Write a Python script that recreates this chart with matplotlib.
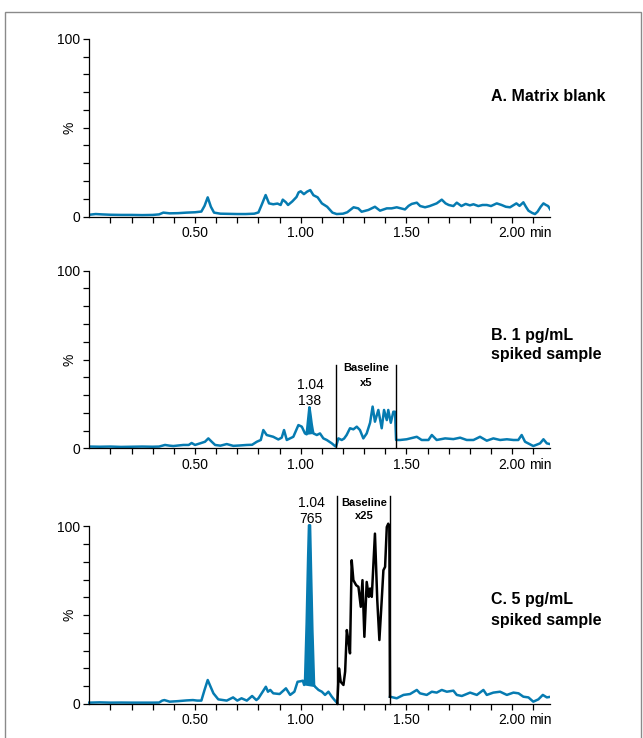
import numpy as np
import matplotlib.pyplot as plt
from matplotlib.patches import Rectangle

plt.rcParams["font.family"] = ["Liberation Sans", "DejaVu Sans"]

BLUE = "#067bb1"

# A. Matrix blank: retention time (min) / response (%)
time_a = [0.00, 0.03, 0.06, 0.10, 0.15, 0.20, 0.25, 0.30, 0.33, 0.35, 0.38, 0.42,
          0.46, 0.50, 0.53, 0.545, 0.56, 0.575, 0.59, 0.62, 0.66, 0.70, 0.74, 0.78,
          0.80, 0.815, 0.834, 0.85, 0.87, 0.89, 0.905, 0.915, 0.93, 0.94, 0.96, 0.98,
          0.99, 1.00, 1.015, 1.03, 1.045, 1.06, 1.08, 1.10, 1.125, 1.15, 1.17, 1.20,
          1.22, 1.25, 1.272, 1.288, 1.32, 1.351, 1.375, 1.407, 1.43, 1.454, 1.493,
          1.51, 1.525, 1.549, 1.565, 1.588, 1.61, 1.643, 1.667, 1.685, 1.70, 1.722,
          1.738, 1.76, 1.78, 1.80, 1.817, 1.84, 1.86, 1.88, 1.90, 1.927, 1.95, 1.97,
          1.99, 2.02, 2.035, 2.053, 2.065, 2.077, 2.095, 2.108, 2.12, 2.135, 2.148,
          2.16, 2.17, 2.18]
resp_a = [1.0, 1.4, 1.2, 1.0, 0.9, 0.9, 0.8, 0.9, 1.2, 2.2, 1.8, 1.9,
          2.2, 2.4, 2.8, 6.0, 10.8, 5.5, 2.2, 1.6, 1.5, 1.4, 1.4, 1.6,
          2.3, 6.5, 12.1, 7.4, 6.9, 7.3, 6.5, 9.5, 8.0, 6.5, 8.5, 11.0,
          13.6, 14.2, 12.6, 14.0, 14.9, 12.0, 10.8, 7.4, 5.5, 2.2, 1.4, 1.6,
          2.4, 5.2, 4.6, 2.7, 3.7, 5.5, 3.3, 4.6, 4.6, 5.2, 4.0,
          6.0, 7.1, 7.8, 5.9, 5.2, 5.9, 7.4, 9.5, 7.4, 6.5, 5.9,
          7.8, 5.9, 7.1, 6.3, 6.9, 5.9, 6.5, 6.5, 5.9, 7.4, 6.5, 5.5,
          5.2, 7.4, 6.0, 8.0, 5.5, 3.3, 2.0, 1.4, 2.7, 5.5, 7.4,
          6.5, 5.9, 4.0]

# B. 1 pg/mL spiked sample (section 1.17-1.45 shown at x5)
time_b = [0.00, 0.05, 0.10, 0.15, 0.20, 0.25, 0.30, 0.33, 0.358, 0.38, 0.397, 0.445,
          0.47, 0.484, 0.50, 0.524, 0.547, 0.563, 0.579, 0.595, 0.62, 0.65, 0.681,
          0.71, 0.745, 0.77, 0.792, 0.811, 0.823, 0.839, 0.87, 0.894, 0.91, 0.921,
          0.934, 0.965, 0.989, 1.005, 1.02, 1.028, 1.034, 1.041, 1.046, 1.052, 1.057,
          1.06, 1.076, 1.091, 1.107, 1.123, 1.147, 1.162, 1.167, 1.178, 1.194, 1.205,
          1.217, 1.233, 1.249, 1.265, 1.28, 1.296, 1.312, 1.328, 1.34, 1.351, 1.367,
          1.383, 1.394, 1.407, 1.414, 1.426, 1.438, 1.446, 1.451, 1.47, 1.501, 1.549,
          1.572, 1.604, 1.62, 1.643, 1.683, 1.722, 1.754, 1.785, 1.817, 1.848, 1.88,
          1.911, 1.943, 1.975, 2.006, 2.029, 2.045, 2.061, 2.10, 2.132, 2.148, 2.164,
          2.179]
resp_b = [1.0, 0.9, 1.0, 0.8, 0.9, 1.0, 0.9, 1.0, 1.9, 1.5, 1.3, 1.9,
          1.9, 3.0, 1.9, 2.8, 3.7, 5.6, 3.7, 1.9, 1.5, 2.4, 1.4,
          1.6, 1.9, 2.0, 3.7, 4.7, 10.3, 7.5, 6.5, 5.0, 6.0, 10.3,
          4.7, 6.5, 13.1, 12.2, 8.4, 7.9, 15.0, 23.1, 19.0, 13.5, 10.0,
          8.4, 7.5, 8.4, 5.6, 4.7, 2.8, 1.3, 1.0, 5.6, 4.7, 5.5,
          7.5, 11.3, 10.7, 12.2, 10.3, 5.6, 8.4, 14.4, 23.5, 15.0, 21.6,
          11.3, 21.6, 15.9, 21.6, 14.4, 20.6, 20.6, 4.7, 4.7, 5.1, 6.5,
          4.7, 4.7, 7.5, 4.7, 5.6, 5.2, 6.0, 4.7, 4.7, 6.5, 4.3,
          5.6, 4.7, 5.1, 4.7, 4.7, 7.5, 3.7, 1.3, 2.8, 5.1, 2.8,
          2.4]

# C. 5 pg/mL spiked sample, blue trace
time_c = [0.00, 0.05, 0.10, 0.15, 0.20, 0.25, 0.30, 0.33, 0.345, 0.355, 0.38, 0.42,
          0.46, 0.49, 0.51, 0.53, 0.545, 0.56, 0.57, 0.587, 0.61, 0.65, 0.68, 0.70,
          0.72, 0.745, 0.77, 0.79, 0.80, 0.82, 0.835, 0.845, 0.856, 0.87, 0.90, 0.93,
          0.95, 0.97, 0.985, 1.00, 1.01, 1.016, 1.020, 1.028, 1.035, 1.039, 1.044,
          1.049, 1.055, 1.063, 1.068, 1.084, 1.10, 1.115, 1.131, 1.147, 1.16, 1.173]
resp_c = [0.75, 0.9, 0.75, 0.8, 0.75, 0.75, 0.75, 0.8, 1.9, 2.2, 1.3, 1.6,
          2.0, 2.2, 1.9, 1.9, 7.9, 13.5, 10.7, 6.0, 2.6, 1.9, 3.7, 1.9,
          3.2, 1.9, 4.5, 2.2, 3.2, 6.9, 9.7, 6.9, 7.9, 6.0, 5.6, 8.8,
          5.1, 6.9, 12.5, 12.8, 13.1, 10.7, 11.6, 45.3, 82.8, 100.6, 100.6,
          73.4, 41.6, 10.7, 9.7, 7.9, 6.9, 5.1, 6.9, 4.1, 2.2, 0.5]

# C. baseline section 1.17-1.42 shown at x25 (black)
time_c_x25 = [1.173, 1.181, 1.189, 1.202, 1.210, 1.218, 1.225, 1.233, 1.241, 1.249,
              1.262, 1.273, 1.284, 1.292, 1.301, 1.312, 1.322, 1.328, 1.336, 1.351,
              1.362, 1.372, 1.383, 1.391, 1.399, 1.407, 1.414, 1.419, 1.422]
resp_c_x25 = [0.5, 20.0, 12.5, 10.7, 18.2, 41.6, 36.0, 28.5, 80.9, 69.7,
              66.9, 65.9, 54.7, 69.7, 37.8, 68.7, 60.3, 65.0, 60.3, 95.9,
              58.4, 36.0, 58.4, 75.3, 77.2, 99.6, 101.5, 100.0, 4.1]

# C. blue trace after the x25 section
time_c_tail = [1.422, 1.454, 1.486, 1.517, 1.549, 1.564, 1.596, 1.62, 1.643, 1.667,
               1.691, 1.722, 1.738, 1.762, 1.801, 1.833, 1.864, 1.88, 1.911, 1.943,
               1.975, 2.006, 2.03, 2.053, 2.077, 2.10, 2.124, 2.145, 2.164, 2.184]
resp_c_tail = [4.1, 3.2, 5.1, 5.6, 7.9, 6.0, 5.1, 6.9, 6.4, 7.9,
               6.9, 7.5, 5.1, 4.5, 6.4, 5.1, 7.9, 5.1, 6.4, 6.9,
               5.1, 6.4, 6.0, 4.1, 3.7, 1.3, 2.6, 5.1, 3.7, 4.1]

peak_b = (1.028, 1.06)
peak_c = (1.016, 1.068)

x_label_map = {5: "0.50", 10: "1.00", 15: "1.50", 20: "2.00"}


def fill_peak(ax, t, y, window):
    t = np.asarray(t)
    y = np.asarray(y)
    m = (t >= window[0]) & (t <= window[1])
    base = np.interp(t[m], [t[m][0], t[m][-1]], [y[m][0], y[m][-1]])
    ax.fill_between(t[m], y[m], base, color=BLUE, lw=0)


def setup_axis(ax):
    ax.set_xlim(0, 2.18)
    ax.set_ylim(0, 100)
    for side in ["top", "right"]:
        ax.spines[side].set_visible(False)
    for side in ["left", "bottom"]:
        ax.spines[side].set_linewidth(0.9)
    ax.set_yticks(range(0, 101, 10))
    ax.set_yticklabels(["0"] + [""] * 9 + ["100"])
    ticks = [i / 10 for i in range(1, 22)]
    ax.set_xticks(ticks)
    ax.set_xticklabels([x_label_map.get(i, "") for i in range(1, 22)])
    ax.tick_params(length=4.3, width=0.9, labelsize=10, pad=2.5)
    ax.text(-0.042, 0.5, "%", transform=ax.transAxes, rotation=90,
            ha="center", va="center", fontsize=10)
    ax.annotate("min", xy=(2.082, 0), xycoords=("data", "axes fraction"),
                xytext=(0, -6.8), textcoords="offset points",
                ha="left", va="top", fontsize=10)


def main() -> None:
    fig = plt.figure(figsize=(6.43, 7.38), dpi=100)
    left, width, height = 0.1389, 0.7168, 0.2407
    ax_a = fig.add_axes([left, 0.7066, width, height])
    ax_b = fig.add_axes([left, 0.3925, width, height])
    ax_c = fig.add_axes([left, 0.0461, width, height])
    for ax in (ax_a, ax_b, ax_c):
        setup_axis(ax)

    lw = 1.8

    # A
    ax_a.plot(time_a, resp_a, color=BLUE, lw=lw)
    ax_a.text(0.871, 0.675, "A. Matrix blank", transform=ax_a.transAxes,
              fontsize=11.5, fontweight="bold", va="center")

    # B
    ax_b.plot(time_b, resp_b, color=BLUE, lw=lw)
    fill_peak(ax_b, time_b, resp_b, peak_b)
    for t in (1.167, 1.451):
        ax_b.plot([t, t], [0, 46.9], color="black", lw=1.0)
    ax_b.text(1.31, 45.0, "Baseline", ha="center", va="center",
              fontsize=8, fontweight="bold")
    ax_b.text(1.31, 36.9, "x5", ha="center", va="center",
              fontsize=8, fontweight="bold")
    ax_b.text(1.044, 35.6, "1.04", ha="center", va="center", fontsize=10)
    ax_b.text(1.044, 26.8, "138", ha="center", va="center", fontsize=10)
    ax_b.text(0.871, 0.638, "B. 1 pg/mL", transform=ax_b.transAxes,
              fontsize=11.5, fontweight="bold", va="center")
    ax_b.text(0.871, 0.530, "spiked sample", transform=ax_b.transAxes,
              fontsize=11.5, fontweight="bold", va="center")

    # C
    ax_c.plot(time_c, resp_c, color=BLUE, lw=lw, clip_on=False)
    fill_peak(ax_c, time_c, resp_c, peak_c)
    ax_c.plot(time_c_tail, resp_c_tail, color=BLUE, lw=lw)
    ax_c.plot(time_c_x25, resp_c_x25, color="black", lw=lw, clip_on=False)
    for t in (1.173, 1.422):
        ax_c.plot([t, t], [0, 116.9], color="black", lw=1.0, clip_on=False)
    ax_c.text(1.30, 113.1, "Baseline", ha="center", va="center",
              fontsize=8, fontweight="bold")
    ax_c.text(1.30, 105.6, "x25", ha="center", va="center",
              fontsize=8, fontweight="bold")
    ax_c.text(1.05, 113.1, "1.04", ha="center", va="center", fontsize=10)
    ax_c.text(1.05, 104.3, "765", ha="center", va="center", fontsize=10)
    ax_c.text(0.871, 0.590, "C. 5 pg/mL", transform=ax_c.transAxes,
              fontsize=11.5, fontweight="bold", va="center")
    ax_c.text(0.871, 0.472, "spiked sample", transform=ax_c.transAxes,
              fontsize=11.5, fontweight="bold", va="center")

    # outer frame
    fig.add_artist(Rectangle((5 / 643, -0.02), 636 / 643, 1 - 12 / 738 + 0.02,
                             transform=fig.transFigure, fill=False,
                             edgecolor="#8a8a8a", lw=1.0))

    fig.savefig("out.png", dpi=100)
    plt.close(fig)


if __name__ == "__main__":
    main()
